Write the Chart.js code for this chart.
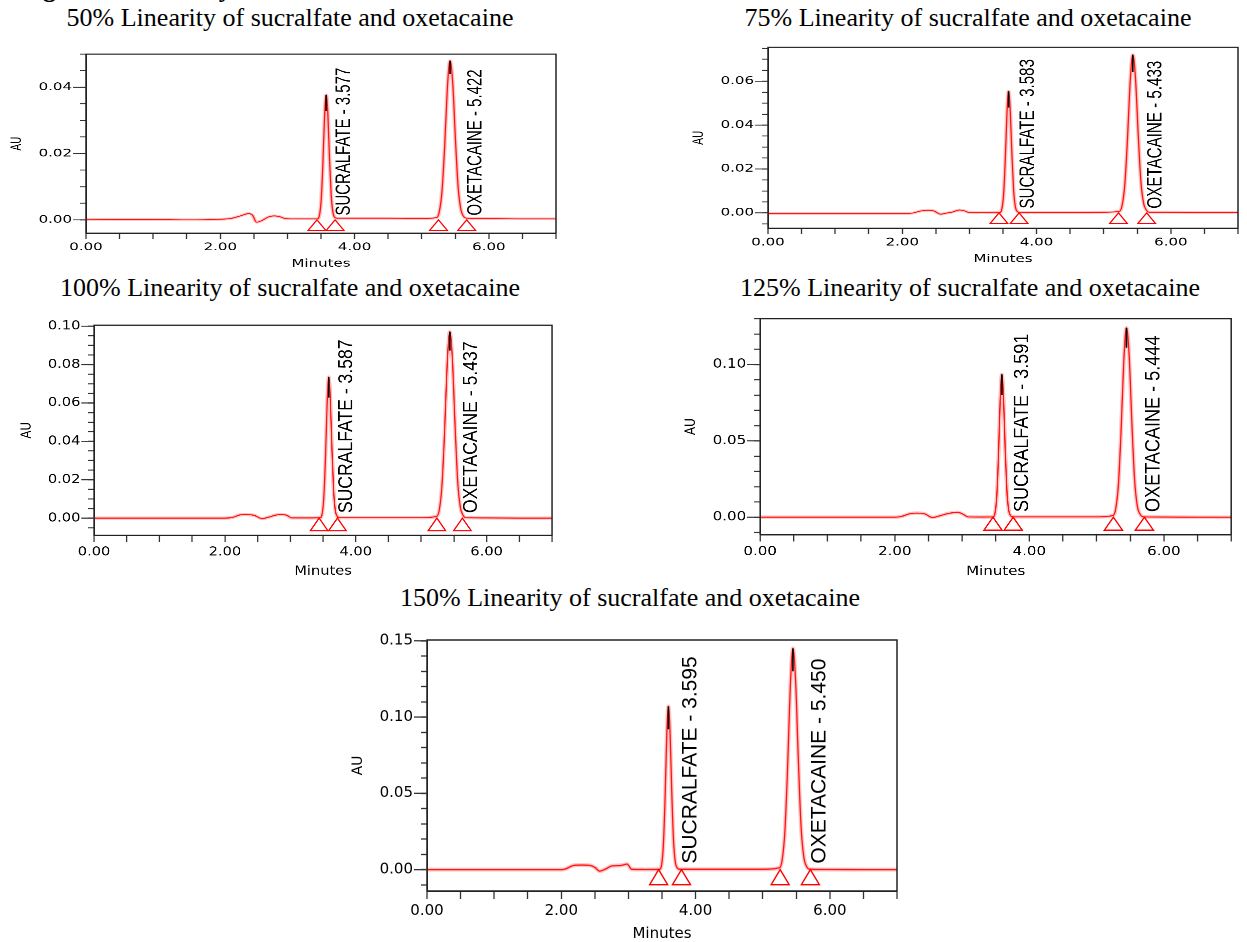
<!DOCTYPE html>
<html>
<head>
  <title>Linearity chromatograms - sucralfate and oxetacaine</title>
  <script src="https://cdn.jsdelivr.net/npm/chart.js"></script>
  <style>
    body { margin: 0; background: #fff; width: 1247px; height: 942px; overflow: hidden; position: relative;
           font-family: 'Liberation Serif', 'Times New Roman', serif; }
    .title { position: absolute; width: 600px; text-align: center; font-size: 26px; line-height: 26px; color: #000; white-space: nowrap; }
    .cut { position: absolute; left: 20px; top: -24px; font-size: 26px; line-height: 26px; font-weight: bold; white-space: nowrap; }
    .panel { position: absolute; width: 560px; height: 320px; transform-origin: 0 0; }
  </style>
</head>
<body>
  <div class="cut">Figure 4: Linearity</div>

  <script>
    // ---- data (time in minutes, response in AU) ----
    const minuteLabels = [0, 2, 4, 6];
    const peakNames = ['SUCRALFATE', 'OXETACAINE'];

    // 50 %
    const trace50 = [[0,0.0002],[0.5,0.0001],[1.0,0.0001],[1.5,0.0],[2.0,0.0002],[2.15,0.0004],[2.3,0.0012],[2.42,0.0019],[2.48,0.0014],[2.54,-0.0007],[2.62,-0.0002],[2.72,0.0009],[2.8,0.0012],[2.88,0.001],[2.95,0.0005],[3.05,0.0003],[3.3,0.0003],
      [3.444,0.0003],[3.477,0.0014],[3.502,0.0058],[3.527,0.0163],[3.552,0.0307],[3.577,0.0377],[3.602,0.032],[3.627,0.0184],[3.652,0.0075],[3.677,0.0024],[3.707,0.0007],[3.75,0.0005],
      [4.0,0.0005],[4.5,0.0005],[5.0,0.0004],
      [5.222,0.0007],[5.262,0.0025],[5.302,0.0086],[5.342,0.0222],[5.382,0.0398],[5.422,0.048],[5.462,0.0412],[5.502,0.0244],[5.542,0.01],[5.582,0.0033],[5.622,0.0011],[5.67,0.0005],
      [6.0,0.0004],[6.5,0.0003],[7.0,0.0003]];
    const rt50 = [3.577, 5.422];
    const apex50 = [[0.0377, 0.0328], [0.048, 0.044]];
    const marks50 = [3.44, 3.71, 5.25, 5.67];
    const au50 = [0, 0.02, 0.04];

    // 75 %
    const trace75 = [[0,-0.0003],[1.0,-0.0003],[2.0,-0.0003],[2.15,-0.0001],[2.28,0.0009],[2.39,0.0012],[2.47,0.0009],[2.57,-0.0006],[2.66,-0.0001],[2.75,0.0004],[2.85,0.0013],[2.93,0.0009],[3.0,0.0001],[3.3,0.0001],
      [3.45,0.0001],[3.483,0.0018],[3.508,0.0081],[3.533,0.0235],[3.558,0.0447],[3.583,0.0554],[3.608,0.0465],[3.633,0.0266],[3.658,0.0105],[3.683,0.003],[3.713,0.0006],[3.75,0.0002],
      [4.0,0.0002],[4.5,0.0002],[5.0,0.0003],
      [5.233,0.0007],[5.273,0.0033],[5.313,0.0125],[5.353,0.033],[5.393,0.0593],[5.433,0.0721],[5.473,0.0615],[5.513,0.0363],[5.553,0.0146],[5.593,0.0046],[5.633,0.0014],[5.68,0.0003],
      [6.0,0.0003],[6.5,0.0002],[7.0,0.0002]];
    const rt75 = [3.583, 5.433];
    const apex75 = [[0.0554, 0.048], [0.0721, 0.0643]];
    const marks75 = [3.44, 3.74, 5.22, 5.64];
    const au75 = [0, 0.02, 0.04, 0.06];

    // 100 %
    const trace100 = [[0,0],[1.0,0],[2.0,0],[2.12,0.0004],[2.22,0.0016],[2.32,0.0019],[2.45,0.0014],[2.57,-0.0003],[2.65,0.0003],[2.78,0.0016],[2.87,0.0019],[2.95,0.0014],[3.02,0.0001],[3.3,0.0001],
      [3.454,0.0002],[3.487,0.0024],[3.512,0.0109],[3.537,0.0314],[3.562,0.0595],[3.587,0.0735],[3.612,0.0619],[3.637,0.0355],[3.662,0.0142],[3.687,0.0042],[3.717,0.0009],[3.76,0.0002],
      [4.0,0.0002],[4.5,0.0002],[5.0,0.0002],
      [5.237,0.0009],[5.277,0.0044],[5.317,0.0167],[5.357,0.0444],[5.397,0.0798],[5.437,0.0971],[5.477,0.0827],[5.517,0.0488],[5.557,0.0196],[5.597,0.006],[5.637,0.0017],[5.69,0.0002],
      [6.0,0.0001],[6.5,0],[7.0,0]];
    const rt100 = [3.587, 5.437];
    const apex100 = [[0.0735, 0.0628], [0.0971, 0.0873]];
    const marks100 = [3.44, 3.72, 5.24, 5.63];
    const au100 = [0, 0.02, 0.04, 0.06, 0.08, 0.10];

    // 125 %
    const trace125 = [[0,0],[1.0,0],[2.0,0],[2.1,0.0005],[2.22,0.0022],[2.33,0.0027],[2.45,0.0021],[2.56,-0.0002],[2.66,0.0008],[2.8,0.0025],[2.94,0.0032],[3.02,0.0018],[3.09,0.0002],[3.3,0.0001],
      [3.458,0.0002],[3.491,0.003],[3.516,0.0139],[3.541,0.0399],[3.566,0.0757],[3.591,0.0935],[3.616,0.0787],[3.641,0.0451],[3.666,0.018],[3.691,0.0053],[3.721,0.0011],[3.76,0.0002],
      [4.0,0.0002],[4.5,0.0002],[5.0,0.0002],
      [5.244,0.0011],[5.284,0.0055],[5.324,0.0213],[5.364,0.0566],[5.404,0.1019],[5.444,0.124],[5.484,0.1056],[5.524,0.0622],[5.564,0.025],[5.604,0.0076],[5.644,0.0021],[5.70,0.0002],
      [6.0,0.0001],[6.5,0],[7.0,0]];
    const rt125 = [3.591, 5.444];
    const apex125 = [[0.0935, 0.080], [0.124, 0.111]];
    const marks125 = [3.46, 3.76, 5.25, 5.71];
    const au125 = [0, 0.05, 0.10];

    // 150 %
    const trace150 = [[0,0],[1.0,0],[2.0,0],[2.06,0.0004],[2.18,0.0027],[2.3,0.003],[2.42,0.0028],[2.5,0.0015],[2.57,-0.001],[2.66,0.0004],[2.75,0.0024],[2.88,0.0027],[2.98,0.0036],[3.05,0.0002],[3.3,0.0001],
      [3.462,0.0002],[3.495,0.0034],[3.52,0.0158],[3.545,0.0457],[3.57,0.0865],[3.595,0.107],[3.62,0.0901],[3.645,0.0516],[3.67,0.0205],[3.695,0.0061],[3.725,0.0012],[3.77,0.0002],
      [4.0,0.0002],[4.5,0.0002],[5.0,0.0002],
      [5.25,0.0012],[5.29,0.0064],[5.33,0.0249],[5.37,0.0662],[5.41,0.1191],[5.45,0.145],[5.49,0.1235],[5.53,0.0727],[5.57,0.0292],[5.61,0.0089],[5.65,0.0024],[5.71,0.0002],
      [6.0,0.0001],[6.5,0],[7.0,0]];
    const rt150 = [3.595, 5.450];
    const apex150 = [[0.107, 0.092], [0.145, 0.130]];
    const marks150 = [3.45, 3.79, 5.26, 5.71];
    const au150 = [0, 0.05, 0.10, 0.15];

    // ---- panel setup: axis ranges + where each plot box sits on the page ----
    const panels = [
      { pct: '50%',  trace: trace50,  rt: rt50,  apex: apex50,  marks: marks50,  au: au50,  yMin: -0.004,  yMax: 0.05,   yMinor: 0.005,
        box: [86, 49, 470, 184],   titleX: 290, titleTop: 5 },
      { pct: '75%',  trace: trace75,  rt: rt75,  apex: apex75,  marks: marks75,  au: au75,  yMin: -0.007,  yMax: 0.0755, yMinor: 0.005,
        box: [768, 42, 470, 186],  titleX: 968, titleTop: 5 },
      { pct: '100%', trace: trace100, rt: rt100, apex: apex100, marks: marks100, au: au100, yMin: -0.009,  yMax: 0.1005, yMinor: 0.005,
        box: [94, 319, 458, 216],  titleX: 290, titleTop: 275 },
      { pct: '125%', trace: trace125, rt: rt125, apex: apex125, marks: marks125, au: au125, yMin: -0.0114, yMax: 0.13,   yMinor: 0.01,
        box: [760, 313, 471, 222], titleX: 970, titleTop: 275 },
      { pct: '150%', trace: trace150, rt: rt150, apex: apex150, marks: marks150, au: au150, yMin: -0.014,  yMax: 0.1505, yMinor: 0.01,
        box: [427, 633, 470, 258], titleX: 630, titleTop: 585 }
    ];

    Chart.defaults.font.family = "'DejaVu Sans', Verdana, sans-serif";
    Chart.defaults.color = '#000';

    // every chart is drawn at the same native size, then squeezed with css to fit its box
    const NATIVE_W = 560, NATIVE_H = 320, AXIS_W = 77, AXIS_H = 52, PAD_TOP = 10, PAD_RIGHT = 13;
    const PLOT_W = NATIVE_W - AXIS_W - PAD_RIGHT;
    const PLOT_H = NATIVE_H - AXIS_H - PAD_TOP;

    function isOn(v, list) {
      return list.some(m => Math.abs(m - v) < 1e-6);
    }

    // box frame, long major y ticks, peak start/end triangles and rotated peak names
    function peakDecor(p) {
      return {
        id: 'peakDecor',
        afterDatasetsDraw(chart) {
          const { ctx, chartArea: a, scales: { x, y } } = chart;
          const y0 = y.getPixelForValue(0);
          ctx.save();
          ctx.strokeStyle = '#222';
          ctx.lineWidth = 1.5;
          ctx.strokeRect(a.left, a.top, a.width, a.height);

          ctx.strokeStyle = '#333';
          ctx.lineWidth = 1.3;
          p.au.forEach(v => {
            const py = y.getPixelForValue(v);
            ctx.beginPath();
            ctx.moveTo(a.left - 13, py);
            ctx.lineTo(a.left, py);
            ctx.stroke();
          });

          ctx.strokeStyle = '#ff0000';
          ctx.lineWidth = 1.4;
          p.marks.forEach(t => {
            const px = x.getPixelForValue(t);
            ctx.beginPath();
            ctx.moveTo(px, y0);
            ctx.lineTo(px + 9, y0 + 15);
            ctx.lineTo(px - 9, y0 + 15);
            ctx.closePath();
            ctx.stroke();
          });

          ctx.fillStyle = '#000';
          ctx.font = "21px 'Liberation Sans', Arial, sans-serif";
          ctx.textAlign = 'left';
          ctx.textBaseline = 'alphabetic';
          peakNames.forEach((name, i) => {
            const px = x.getPixelForValue(p.marks[i * 2 + 1]);
            ctx.save();
            ctx.translate(px + 15, y0 - 6);
            ctx.rotate(-Math.PI / 2);
            ctx.fillText(name + ' - ' + p.rt[i].toFixed(3), 0, 0);
            ctx.restore();
          });
          ctx.restore();
        }
      };
    }

    panels.forEach(p => {
      const title = document.createElement('div');
      title.className = 'title';
      title.textContent = p.pct + ' Linearity of sucralfate and oxetacaine';
      title.style.left = (p.titleX - 300) + 'px';
      title.style.top = p.titleTop + 'px';
      document.body.appendChild(title);

      const sx = p.box[2] / PLOT_W, sy = p.box[3] / PLOT_H;
      const wrap = document.createElement('div');
      wrap.className = 'panel';
      wrap.style.left = (p.box[0] - AXIS_W * sx) + 'px';
      wrap.style.top = (p.box[1] - PAD_TOP * sy) + 'px';
      wrap.style.transform = `scale(${sx}, ${sy})`;
      const canvas = document.createElement('canvas');
      canvas.width = NATIVE_W;
      canvas.height = NATIVE_H;
      wrap.appendChild(canvas);
      document.body.appendChild(wrap);

      const points = p.trace.map(([t, v]) => ({ x: t, y: v }));

      // black apex ticks go first so they sit on top of the red trace
      const apexSets = p.apex.map((a, i) => ({
        data: [{ x: p.rt[i], y: a[0] }, { x: p.rt[i], y: a[1] }],
        borderColor: '#000', borderWidth: 1.6, pointRadius: 0, tension: 0
      }));

      new Chart(canvas, {
        type: 'line',
        data: {
          datasets: [
            ...apexSets,
            // sharp red trace
            { data: points, borderColor: 'rgba(255, 0, 0, 0.9)', borderWidth: 1.3, pointRadius: 0, cubicInterpolationMode: 'monotone' },
            // soft pink halo under it, like the scanned print
            { data: points, borderColor: 'rgba(255, 90, 90, 0.35)', borderWidth: 4, pointRadius: 0, cubicInterpolationMode: 'monotone' }
          ]
        },
        options: {
          responsive: false,
          animation: false,
          devicePixelRatio: 2,
          layout: { padding: { top: PAD_TOP, right: PAD_RIGHT, left: 0, bottom: 0 } },
          plugins: { legend: { display: false }, tooltip: { enabled: false } },
          scales: {
            x: {
              type: 'linear', min: 0, max: 7,
              afterBuildTicks(axis) {
                const ticks = [];
                for (let k = 0; k <= 14; k++) ticks.push({ value: k * 0.5 });
                axis.ticks = ticks;
              },
              afterFit(axis) { axis.height = AXIS_H; },
              ticks: {
                autoSkip: false, maxRotation: 0, padding: 3,
                font: { size: 15 },
                callback: v => isOn(v, minuteLabels) ? v.toFixed(2) : ''
              },
              grid: { drawOnChartArea: false, drawTicks: true, tickLength: 8, tickColor: '#333', tickWidth: 1.3 },
              border: { color: '#222', width: 1.5 },
              title: { display: true, text: 'Minutes', font: { size: 15 }, padding: { top: 0, bottom: 0 } }
            },
            y: {
              type: 'linear', min: p.yMin, max: p.yMax,
              afterBuildTicks(axis) {
                const ticks = [];
                const k0 = Math.ceil(p.yMin / p.yMinor - 1e-6), k1 = Math.floor(p.yMax / p.yMinor + 1e-6);
                for (let k = k0; k <= k1; k++) ticks.push({ value: +(k * p.yMinor).toFixed(6) });
                axis.ticks = ticks;
              },
              afterFit(axis) { axis.width = AXIS_W; },
              ticks: {
                autoSkip: false, padding: 8,
                font: { size: 15 },
                callback: v => isOn(v, p.au) ? v.toFixed(2) : ''
              },
              grid: { drawOnChartArea: false, drawTicks: true, tickLength: 6, tickColor: '#333', tickWidth: 1.3 },
              border: { color: '#222', width: 1.5 },
              title: { display: true, text: 'AU', font: { size: 14 }, padding: { top: 0, bottom: 0 } }
            }
          }
        },
        plugins: [peakDecor(p)]
      });
    });
  </script>
</body>
</html>
